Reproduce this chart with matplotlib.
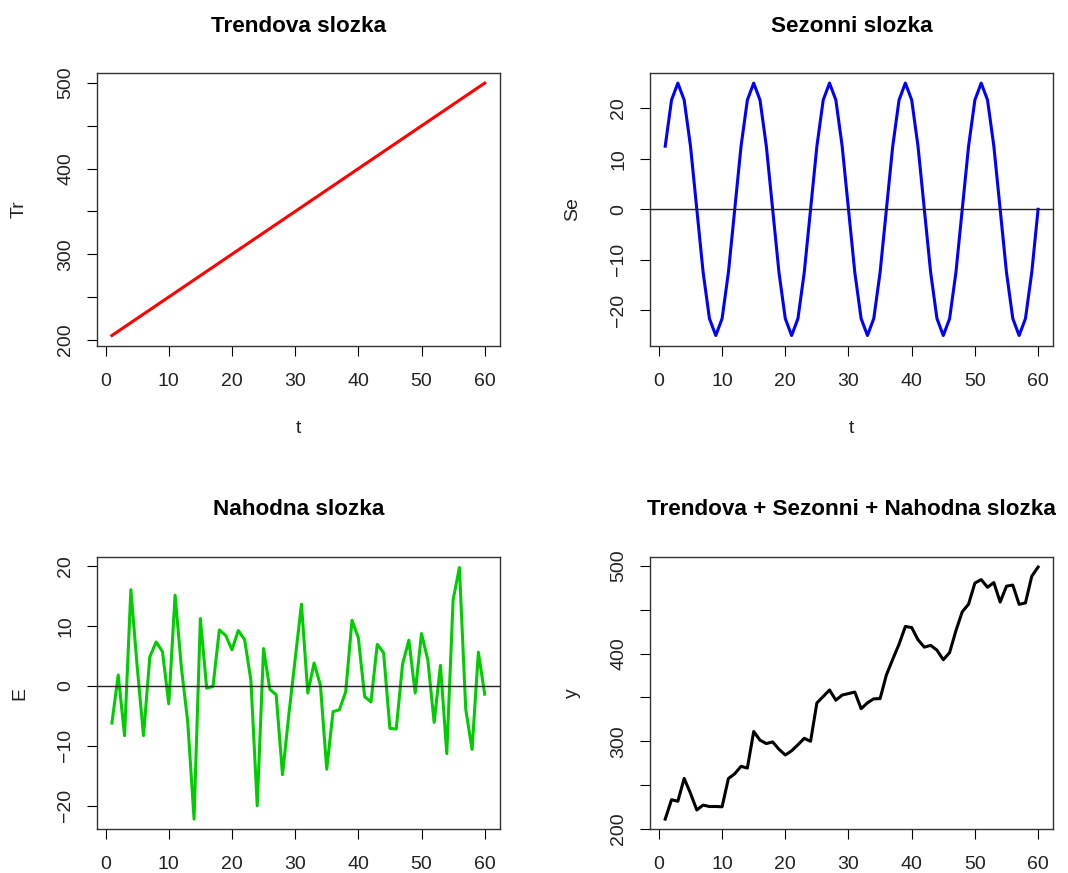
import matplotlib.pyplot as plt

plt.rcParams['font.family'] = ['Liberation Sans', 'DejaVu Sans']

# data
t = list(range(1, 61))
tr = [205, 210, 215, 220, 225, 230, 235, 240, 245, 250,
      255, 260, 265, 270, 275, 280, 285, 290, 295, 300,
      305, 310, 315, 320, 325, 330, 335, 340, 345, 350,
      355, 360, 365, 370, 375, 380, 385, 390, 395, 400,
      405, 410, 415, 420, 425, 430, 435, 440, 445, 450,
      455, 460, 465, 470, 475, 480, 485, 490, 495, 500]
# one season = 12 periods, repeated 5x
se_season = [12.5, 21.65, 25, 21.65, 12.5, 0, -12.5, -21.65, -25, -21.65, -12.5, 0]
se = se_season * 5
e = [-6.2, 1.8, -8.3, 16.0, 3.2, -8.3, 4.8, 7.3, 5.7, -3.0,
     15.1, 3.0, -6.0, -22.2, 11.2, -0.4, -0.1, 9.3, 8.4, 6.0,
     9.2, 7.7, 0.9, -20.0, 6.2, -0.6, -1.5, -14.8, -4.8, 4.4,
     13.6, -1.2, 3.8, 0.1, -13.9, -4.3, -4.0, -1.0, 10.9, 8.0,
     -1.8, -2.7, 6.9, 5.5, -7.1, -7.2, 3.6, 7.6, -1.2, 8.7,
     4.3, -6.1, 3.4, -11.3, 14.3, 19.7, -3.9, -10.6, 5.6, -1.4]
# y = trend + season + random
y = [a + b + c for a, b, c in zip(tr, se, e)]

W, H = 1068, 873
fig = plt.figure(figsize=(W / 100, H / 100), dpi=100)

def make_ax(left, top, right, bottom):
    return fig.add_axes([left / W, 1 - bottom / H, (right - left) / W, (bottom - top) / H])

def r_style(ax, title, ylab, yticks, ylabels, ylim, xlab=True):
    ax.set_xlim(-1.36, 62.36)
    ax.set_ylim(*ylim)
    ax.set_xticks([0, 10, 20, 30, 40, 50, 60])
    ax.set_yticks(yticks)
    ax.set_yticklabels(ylabels)
    for s in ax.spines.values():
        s.set_color('#333333')
        s.set_linewidth(1.0)
    ax.tick_params(direction='out', length=7.5, width=0.8, color='black',
                   labelsize=14, labelcolor='#222222')
    ax.tick_params(axis='x', pad=12)
    ax.tick_params(axis='y', pad=9, labelrotation=90)
    for lab in ax.get_yticklabels():
        lab.set_va('center')
    h = ax.get_position().height * H
    w = ax.get_position().width * W
    ax.text(0.5, 1 + 47 / h, title, transform=ax.transAxes, ha='center', va='center',
            fontsize=16.2, fontweight='bold')
    ax.set_ylabel(ylab, fontsize=14, color='#222222')
    ax.yaxis.set_label_coords(-69 / w, 0.5)
    if xlab:
        ax.set_xlabel('t', fontsize=14, color='#222222')
        ax.xaxis.set_label_coords(0.5, -74 / h)

# Trend
ax1 = make_ax(97, 73, 499.6, 345.6)
ax1.plot(t, tr, color='red', lw=2.2)
r_style(ax1, 'Trendova slozka', 'Tr', [200, 250, 300, 350, 400, 450, 500],
        ['200', '', '300', '', '400', '', '500'], (193.2, 511.8))

# Season
ax2 = make_ax(650.3, 73, 1053, 345.6)
ax2.plot(t, se, color='blue', lw=2.2)
ax2.axhline(0, color='#222222', lw=1.0)
r_style(ax2, 'Sezonni slozka', 'Se', [-20, -10, 0, 10, 20],
        ['\u221220', '\u221210', '0', '10', '20'], (-27, 27))

# Random
ax3 = make_ax(97, 556.7, 499.6, 829.3)
ax3.plot(t, e, color='#00CD00', lw=2.2)
ax3.axhline(0, color='#222222', lw=1.0)
r_style(ax3, 'Nahodna slozka', 'E', [-20, -10, 0, 10, 20],
        ['\u221220', '\u221210', '0', '10', '20'], (-23.9, 21.5), xlab=False)

# Sum
ax4 = make_ax(650.3, 556.7, 1053, 829.3)
ax4.plot(t, y, color='black', lw=2.2)
r_style(ax4, 'Trendova + Sezonni + Nahodna slozka', 'y', [200, 250, 300, 350, 400, 450, 500],
        ['200', '', '300', '', '400', '', '500'], (199.7, 510.4), xlab=False)

fig.savefig('out.png', dpi=100)
